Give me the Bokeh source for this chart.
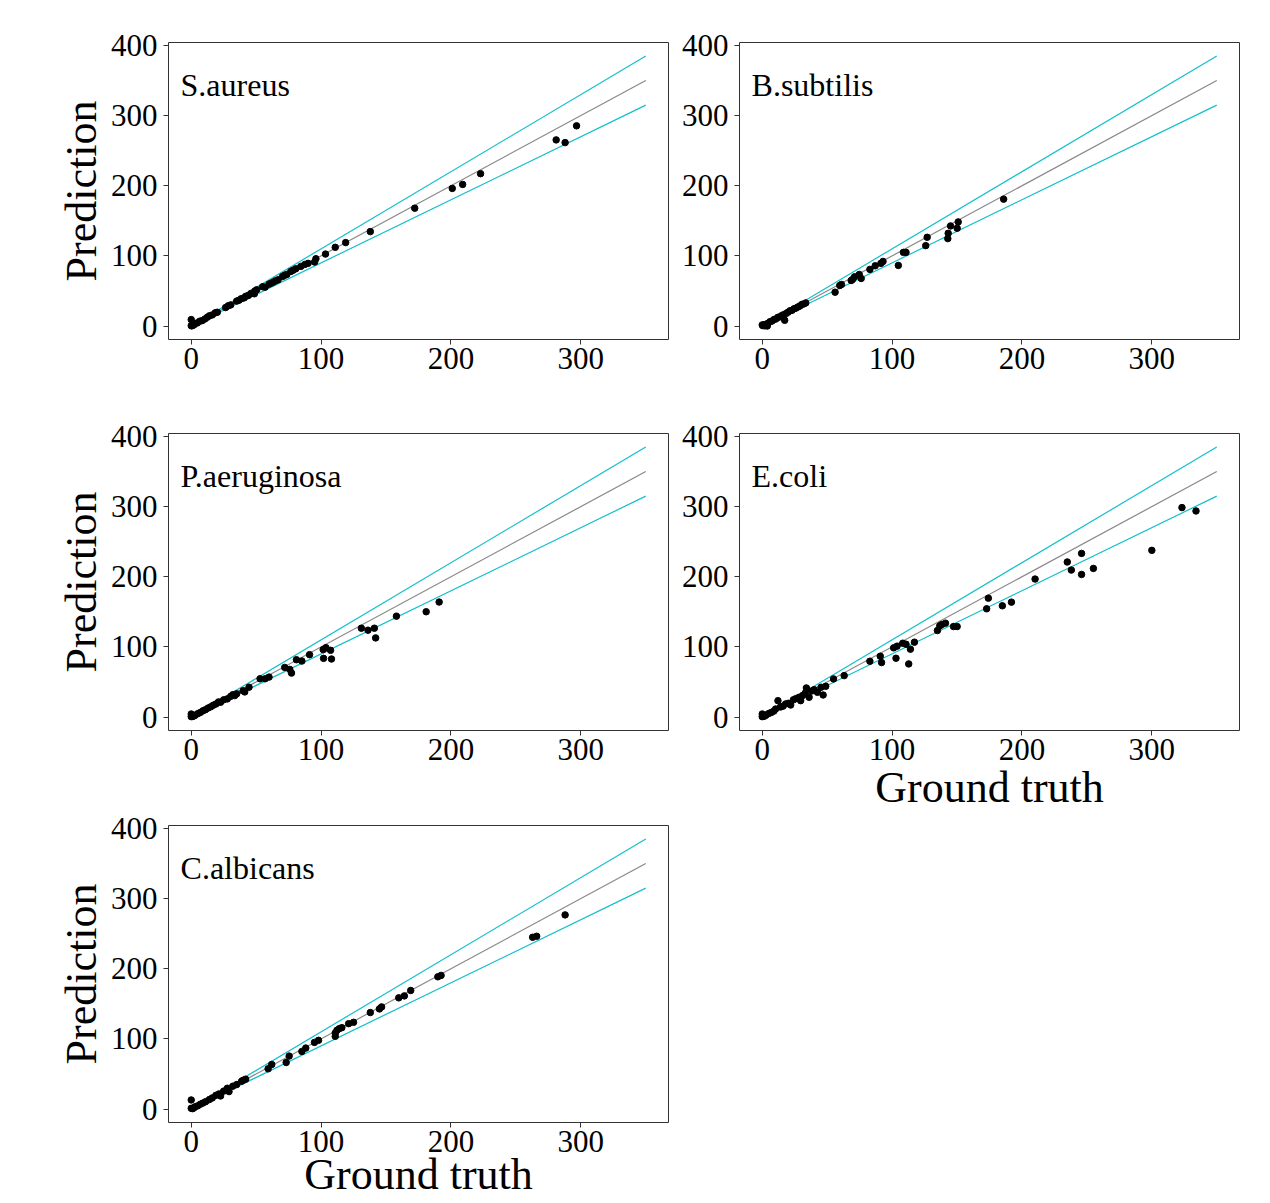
from bokeh.plotting import figure
from bokeh.layouts import column, row
from bokeh.models import Label, Range1d
from bokeh.embed import file_html
from bokeh.resources import INLINE

# ---------------- data ----------------
species = ["S.aureus", "B.subtilis", "P.aeruginosa", "E.coli", "C.albicans"]

sa_truth = [296.7, 281, 287.9, 222.8, 209, 201, 172.1, 137.9, 118.9, 110.9, 103.4, 96, 95, 90, 87.5, 84.4,
            80.5, 78.5, 76.7, 73.6, 72, 70.3, 66.9, 65, 63.3, 61.5, 59.9, 56.9, 55, 50.4, 49, 48.6, 46, 44,
            42, 40.7, 38.5, 36.8, 35, 30.4, 28.5, 26.5, 20.1, 18.5, 16.2, 14, 12.4, 10.5, 8.5, 6.5, 4.7, 3,
            2, 1, 0, 0, 0.5]
sa_pred = [285.4, 265.4, 261.5, 217.2, 201.9, 196.2, 168, 134.6, 118.9, 112.2, 102.6, 95.9, 91.2, 89.3, 87.8, 85,
           81.6, 79.5, 77.8, 73.5, 72.4, 70.6, 65.9, 64.5, 62.6, 61, 59.7, 55.4, 56, 51.6, 50, 45.9, 46.5, 43.5,
           42.4, 40.1, 38.9, 36.8, 35.5, 30.1, 28.8, 26.3, 19.6, 18.8, 15.8, 14.5, 12.5, 10.0, 7.7, 6.8, 4.4, 3.5,
           1.5, 1.2, 9.1, 0.5, 0.2]

bs_truth = [185.9, 150.9, 150.1, 145, 143.2, 142.9, 127, 125.9, 110.7, 108.7, 104.8, 93, 91.4, 87, 82.9, 76.2,
            74.7, 71.1, 69.5, 68.5, 61, 59.7, 56.1, 33.5, 32, 30.5, 29, 27.5, 26, 24.5, 23, 21.5, 20, 18.5,
            17.3, 16.5, 15, 13.5, 12, 10.5, 9, 7.5, 6, 4.5, 3.9, 3, 2, 1, 0, 0.5, 2]
bs_pred = [180.9, 148.4, 139.4, 142.7, 132.2, 124.6, 126.5, 114.6, 105, 105, 86.4, 92.1, 89.3, 85.9, 80.7, 67.8,
           73.5, 70.2, 66.3, 64.9, 59.2, 57.8, 48.2, 32.9, 31.5, 30.8, 28.5, 27.2, 25.5, 24.6, 22.5, 21.8, 19.8, 18,
           8.1, 16.2, 14.8, 13, 12.3, 10, 9.2, 7.1, 6.2, 4.0, 0, 2.5, 1.8, 1.5, 1.5, 0.5, 0.3]

pa_truth = [190.9, 180.9, 158, 131, 136.1, 141, 142, 108, 101.9, 107.3, 103.7, 101.6, 91.1, 85.2, 81, 77.2,
            75.9, 72, 59.9, 56.9, 53, 44.5, 41.2, 40, 35, 33.5, 32, 30.5, 27.8, 25, 22.6, 21, 19, 17, 15,
            13, 11, 9, 7, 5, 3, 2, 0, 0, 1]
pa_pred = [163.9, 150.1, 143.8, 126.6, 123.8, 126.6, 112.8, 82.7, 83.6, 95.1, 98.9, 96.1, 88.9, 79.8, 81.7, 62.6,
           67.9, 70.7, 56.9, 54.5, 54.5, 42.5, 35.8, 37.5, 33, 30.5, 31.8, 29.5, 25.8, 24.5, 21, 21.5, 18.5, 16.8,
           14.5, 12.8, 10.5, 8.8, 6.5, 4.8, 2.5, 1.5, 4.3, 0.5, 0.8]

ec_truth = [323.2, 334, 300, 245.9, 234.9, 238, 245.9, 255, 210.1, 174.1, 172.8, 184.9, 191.9, 150.1, 147.3,
            141.1, 138.3, 136.7, 134.9, 117.2, 114.1, 112.8, 110.7, 108.2, 103.8, 101.2, 103, 91.9, 90.9, 82.9,
            63.1, 54.9, 48.9, 46.9, 45.3, 42.5, 40, 38, 34, 36.1, 33, 31, 29.6, 28.3, 25.8, 24, 21.9, 20, 18,
            16, 14, 12.1, 10.3, 9, 7, 5, 3, 2, 0, 0, 1]
ec_pred = [298.6, 293.8, 237.6, 233.3, 221, 209.5, 203.3, 211.9, 196.7, 169.5, 154.3, 158.6, 163.8, 129, 129,
           133.8, 131.9, 130, 123.3, 106.7, 96.7, 75.7, 103.8, 105.2, 101, 98.6, 83.8, 77.6, 86.7, 79.5,
           59, 54.3, 43.8, 31.4, 42.4, 35.2, 39, 37, 41.4, 28.1, 33.8, 30.5, 23.3, 28.1, 26.2, 24.5, 17.1, 19.5,
           18.6, 15.5, 14.2, 23.3, 11.4, 8.5, 6.5, 5, 2.8, 1.5, 4.3, 0.5, 1]

ca_truth = [287.9, 266, 262.9, 192.4, 189.9, 169, 164.1, 159.8, 146.6, 144.9, 137.9, 125, 121.2, 116, 114, 112.2,
            110.9, 110.9, 98, 94.9, 88.2, 85.2, 75.4, 73.1, 62, 59.2, 41.9, 40, 38.8, 35, 32, 29.1, 27.8, 25,
            22.6, 21.4, 19, 16.2, 14, 11.1, 9, 7, 5, 3, 2, 0, 0, 1]
ca_pred = [276.8, 246.3, 244.9, 190.5, 188.5, 169, 161.3, 158.5, 145.6, 142.7, 137.5, 123.6, 121.7, 116, 114.6,
           112.2, 108.4, 103.6, 97.9, 95, 86.9, 82.1, 75.4, 66.3, 63.5, 57.3, 42.5, 41, 39.6, 34.8, 32.5, 24.8,
           29.6, 25.5, 18.6, 21.5, 19.5, 15.8, 13.5, 10.5, 8.5, 6.8, 4.5, 3.2, 1.5, 12.9, 1, 0.5]

# reference lines: identity and +/-10 %
ref_x = [0, 350]
ideal_y = [0, 350]
upper_y = [0, 385]
lower_y = [0, 315]

x_ticks = [0, 100, 200, 300]
y_ticks = [0, 100, 200, 300, 400]

FONT = "Liberation Serif"
CYAN = "#12BFCB"


def make_panel(name, truth, pred, width, height, left, right, top, bottom, ylabel, xlabel, xl_standoff=0):
    p = figure(width=width, height=height, output_backend="svg", toolbar_location=None,
               x_range=Range1d(-17.5, 367.5), y_range=Range1d(-19.25, 404.25),
               min_border_left=left, min_border_right=right, min_border_top=top, min_border_bottom=bottom)
    p.xgrid.visible = False
    p.ygrid.visible = False
    p.background_fill_color = "white"
    p.border_fill_color = "white"
    p.outline_line_color = "#333333"
    p.outline_line_width = 1
    p.outline_line_alpha = 1

    p.line(ref_x, upper_y, line_color=CYAN, line_width=1.2)
    p.line(ref_x, lower_y, line_color=CYAN, line_width=1.2)
    p.line(ref_x, ideal_y, line_color="#888888", line_width=1.2)
    p.scatter(truth, pred, size=6.5, color="black")

    p.xaxis.ticker = x_ticks
    p.yaxis.ticker = y_ticks
    for ax in (p.xaxis, p.yaxis):
        ax.axis_line_color = None
        ax.major_tick_line_color = "#333333"
        ax.major_tick_out = 5
        ax.major_tick_in = 0
        ax.minor_tick_line_color = None
        ax.major_label_text_font = FONT
        ax.major_label_text_font_size = "31px"
        ax.major_label_text_color = "black"
        ax.axis_label_text_font = FONT
        ax.axis_label_text_font_style = "normal"
        ax.axis_label_text_font_size = "44px"
        ax.axis_label_text_color = "black"
    p.yaxis.major_label_standoff = 6
    p.xaxis.major_label_standoff = 3
    if ylabel:
        p.yaxis.axis_label = ylabel
        p.yaxis.axis_label_standoff = 2
    if xlabel:
        p.xaxis.axis_label = xlabel
        p.xaxis.axis_label_standoff = xl_standoff

    p.add_layout(Label(x=-8.2, y=343, text=name, text_font=FONT, text_font_size="32px",
                       text_color="black", text_align="left", text_baseline="alphabetic"))
    return p


W1, W2 = 673, 576
f1 = make_panel(species[0], sa_truth, sa_pred, W1, 389, 168, 5, 42, 50, "Prediction", None)
f2 = make_panel(species[1], bs_truth, bs_pred, W2, 389, 66, 10, 42, 50, None, None)
f3 = make_panel(species[2], pa_truth, pa_pred, W1, 391, 168, 5, 44, 50, "Prediction", None)
f4 = make_panel(species[3], ec_truth, ec_pred, W2, 435, 66, 10, 44, 94, None, "Ground truth", 0)
f5 = make_panel(species[4], ca_truth, ca_pred, W1, 423, 168, 5, 45, 81, "Prediction", "Ground truth", -5)

layout = row(column(f1, f3, f5), column(f2, f4))

open("out.html", "w").write(file_html(layout, INLINE))
